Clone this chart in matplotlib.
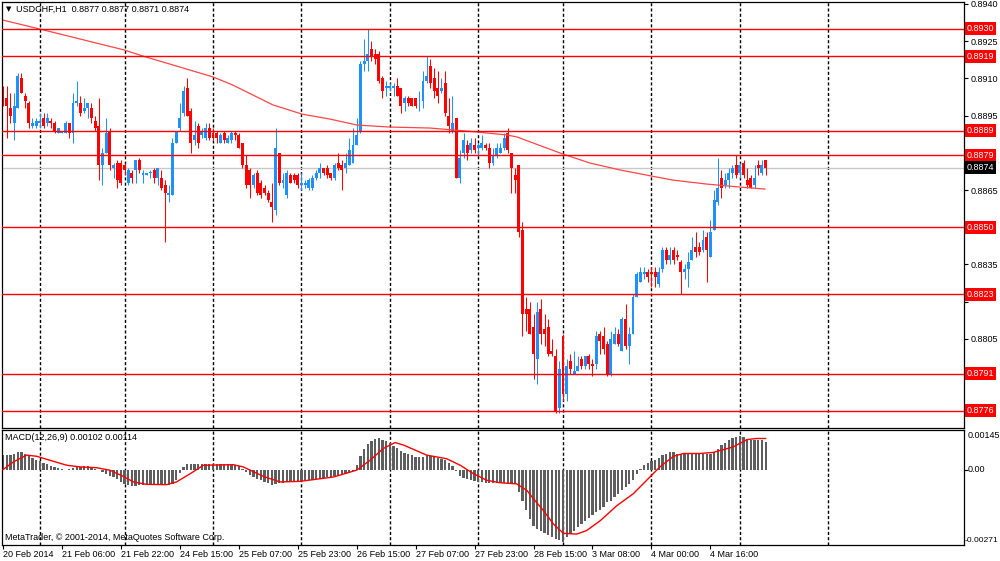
import numpy as np
import matplotlib
matplotlib.use('Agg')
import matplotlib.pyplot as plt
import matplotlib.transforms as mtransforms

plt.rcParams['font.family'] = ['Liberation Sans', 'DejaVu Sans']

# USDCHF H1 candles, prices in pips (1/10000)
opens = [8906, 8902, 8898, 8892, 8898, 8910, 8903, 8900, 8891, 8891,
         8892, 8894, 8892, 8893, 8892, 8888, 8888, 8888, 8892, 8888,
         8900, 8900, 8897, 8898, 8898, 8893, 8891, 8875, 8880, 8889,
         8874, 8876, 8876, 8875, 8868, 8872, 8873, 8877, 8871, 8871,
         8872, 8873, 8870, 8870, 8867, 8863, 8863, 8884, 8890, 8896,
         8906, 8897, 8885, 8891, 8887, 8886, 8890, 8888, 8888, 8884,
         8888, 8884, 8885, 8888, 8887, 8884, 8875, 8873, 8867, 8872,
         8868, 8866, 8864, 8860, 8857, 8880, 8868, 8863, 8871, 8871,
         8871, 8867, 8867, 8866, 8866, 8870, 8872, 8874, 8874, 8872,
         8870, 8876, 8875, 8874, 8875, 8876, 8883, 8889, 8916, 8917,
         8922, 8920, 8920, 8910, 8906, 8906, 8906, 8907, 8906, 8900,
         8902, 8902, 8902, 8902, 8901, 8909, 8915, 8910, 8906, 8905,
         8908, 8895, 8889, 8894, 8870, 8880, 8883, 8881, 8883, 8882,
         8882, 8883, 8882, 8876, 8879, 8880, 8882, 8888, 8880, 8871,
         8875, 8849, 8817, 8817, 8810, 8797, 8817, 8809, 8810, 8800,
         8798, 8777, 8806, 8783, 8796, 8791, 8792, 8797, 8794, 8798,
         8795, 8795, 8807, 8806, 8803, 8791, 8803, 8807, 8800, 8813,
         8802, 8807, 8822, 8828, 8831, 8832, 8832, 8832, 8827, 8833,
         8841, 8837, 8841, 8839, 8836, 8832, 8833, 8837, 8842, 8842,
         8841, 8846, 8838, 8849, 8860, 8870, 8867, 8869, 8872, 8875,
         8872, 8876, 8869, 8870, 8867, 8875, 8872, 8877]
highs = [8907, 8907, 8904, 8904, 8912, 8912, 8904, 8901, 8894, 8894,
         8896, 8896, 8896, 8894, 8893, 8890, 8889, 8893, 8892, 8904,
         8909, 8903, 8902, 8900, 8900, 8895, 8902, 8882, 8894, 8890,
         8876, 8877, 8877, 8876, 8874, 8873, 8877, 8878, 8873, 8872,
         8873, 8874, 8874, 8873, 8869, 8867, 8886, 8889, 8900, 8907,
         8910, 8898, 8893, 8892, 8890, 8892, 8892, 8890, 8889, 8888,
         8889, 8887, 8889, 8889, 8888, 8884, 8879, 8874, 8872, 8873,
         8869, 8867, 8865, 8868, 8890, 8880, 8872, 8873, 8872, 8872,
         8872, 8872, 8869, 8870, 8871, 8873, 8876, 8874, 8875, 8872,
         8876, 8880, 8877, 8880, 8886, 8890, 8894, 8917, 8926, 8930,
         8925, 8922, 8921, 8911, 8909, 8908, 8908, 8910, 8906, 8903,
         8903, 8902, 8902, 8905, 8913, 8919, 8918, 8914, 8913, 8910,
         8913, 8902, 8903, 8894, 8881, 8888, 8885, 8886, 8886, 8884,
         8887, 8884, 8884, 8882, 8884, 8884, 8888, 8890, 8880, 8874,
         8875, 8852, 8822, 8820, 8815, 8820, 8821, 8815, 8813, 8805,
         8801, 8796, 8807, 8797, 8799, 8800, 8798, 8798, 8798, 8799,
         8797, 8808, 8808, 8810, 8804, 8808, 8810, 8809, 8814, 8819,
         8810, 8823, 8832, 8834, 8834, 8833, 8834, 8834, 8834, 8842,
         8842, 8842, 8842, 8841, 8837, 8835, 8840, 8846, 8848, 8844,
         8849, 8848, 8853, 8865, 8878, 8873, 8872, 8874, 8875, 8879,
         8876, 8877, 8874, 8871, 8875, 8877, 8877, 8877]
lows = [8899, 8886, 8892, 8885, 8898, 8904, 8898, 8890, 8890, 8890,
        8890, 8890, 8891, 8890, 8888, 8888, 8888, 8888, 8886, 8884,
        8899, 8895, 8896, 8894, 8892, 8889, 8869, 8867, 8880, 8873,
        8870, 8866, 8867, 8871, 8867, 8868, 8868, 8872, 8868, 8871,
        8870, 8868, 8867, 8865, 8844, 8860, 8863, 8884, 8889, 8895,
        8895, 8880, 8883, 8882, 8886, 8885, 8885, 8885, 8884, 8884,
        8884, 8884, 8884, 8885, 8882, 8874, 8866, 8862, 8866, 8863,
        8862, 8863, 8860, 8852, 8855, 8867, 8866, 8862, 8868, 8868,
        8866, 8865, 8866, 8865, 8865, 8869, 8870, 8871, 8870, 8869,
        8869, 8873, 8865, 8872, 8875, 8876, 8883, 8888, 8913, 8913,
        8917, 8916, 8908, 8902, 8903, 8905, 8903, 8903, 8896, 8897,
        8899, 8899, 8898, 8897, 8898, 8908, 8906, 8902, 8900, 8904,
        8895, 8888, 8888, 8870, 8868, 8878, 8877, 8880, 8880, 8879,
        8881, 8881, 8874, 8875, 8878, 8880, 8881, 8880, 8864, 8864,
        8846, 8806, 8808, 8807, 8789, 8787, 8803, 8802, 8798, 8798,
        8775, 8775, 8780, 8780, 8791, 8791, 8792, 8793, 8793, 8793,
        8790, 8793, 8799, 8799, 8790, 8790, 8803, 8802, 8800, 8801,
        8795, 8807, 8822, 8828, 8829, 8828, 8826, 8826, 8826, 8832,
        8835, 8835, 8835, 8837, 8823, 8829, 8826, 8837, 8838, 8839,
        8840, 8828, 8838, 8849, 8859, 8862, 8866, 8866, 8870, 8870,
        8870, 8870, 8866, 8866, 8866, 8871, 8871, 8871]
closes = [8901, 8899, 8895, 8899, 8911, 8904, 8901, 8892, 8892, 8893,
          8893, 8891, 8894, 8892, 8889, 8890, 8889, 8892, 8888, 8900,
          8901, 8896, 8898, 8900, 8894, 8890, 8875, 8880, 8888, 8875,
          8875, 8869, 8868, 8873, 8873, 8870, 8877, 8873, 8872, 8872,
          8872, 8870, 8874, 8866, 8864, 8864, 8884, 8889, 8894, 8905,
          8895, 8884, 8887, 8884, 8889, 8890, 8886, 8886, 8886, 8887,
          8885, 8886, 8888, 8887, 8882, 8875, 8867, 8867, 8871, 8864,
          8863, 8864, 8861, 8858, 8882, 8868, 8869, 8872, 8868, 8869,
          8867, 8868, 8868, 8869, 8870, 8872, 8874, 8872, 8871, 8870,
          8875, 8874, 8873, 8876, 8881, 8883, 8887, 8916, 8917, 8920,
          8919, 8918, 8909, 8905, 8907, 8907, 8907, 8903, 8899, 8902,
          8900, 8899, 8899, 8902, 8909, 8911, 8908, 8905, 8903, 8906,
          8896, 8891, 8892, 8870, 8878, 8885, 8880, 8884, 8881, 8883,
          8884, 8882, 8876, 8879, 8882, 8882, 8886, 8881, 8874, 8869,
          8848, 8815, 8815, 8807, 8799, 8816, 8807, 8807, 8799, 8799,
          8776, 8793, 8783, 8794, 8793, 8792, 8794, 8794, 8798, 8795,
          8794, 8806, 8804, 8801, 8791, 8805, 8807, 8803, 8813, 8802,
          8807, 8822, 8831, 8832, 8832, 8830, 8831, 8830, 8832, 8841,
          8837, 8839, 8837, 8838, 8832, 8833, 8836, 8841, 8840, 8840,
          8845, 8841, 8848, 8861, 8866, 8866, 8869, 8872, 8874, 8871,
          8875, 8871, 8867, 8866, 8870, 8874, 8875, 8874]

# moving average (bar index, price)
ma_bar = [0, 10, 32.8, 38, 57, 62.4, 73.3, 81.2, 88.8, 96.1, 105, 115.9,
          128.7, 136.8, 139.5, 152, 159.3, 167.5, 176.2, 181.9, 191.1, 200.1, 206.8]
ma_val = [0.89335, 0.89299, 0.89215, 0.89190, 0.89106, 0.89073, 0.88993,
          0.88956, 0.88936, 0.88912, 0.88904, 0.88900, 0.88884, 0.88872,
          0.88864, 0.88795, 0.88759, 0.88731, 0.88706, 0.88690, 0.88674,
          0.88662, 0.88654]

levels = [0.8930, 0.8919, 0.8889, 0.8879, 0.8850, 0.8823, 0.8791, 0.8776]
last_price = 0.8874

# MACD(12,26,9) main histogram, units of 1e-5
macd = [53, 53, 55, 59, 63, 63, 59, 50, 44, 37,
        31, 26, 22, 15, 9, 5, 2, 0, 2, 7,
        10, 11, 12, 13, 10, 4, -2, -10, -16, -22,
        -28, -36, -44, -52, -56, -60, -59, -58, -56, -56,
        -56, -56, -56, -55, -55, -58, -52, -37, -12, 10,
        21, 22, 22, 22, 22, 22, 21, 20, 20, 20,
        20, 20, 18, 17, 13, 4, -9, -18, -27, -34,
        -39, -44, -50, -58, -53, -50, -48, -47, -45, -45,
        -44, -43, -42, -39, -38, -36, -33, -31, -28, -27,
        -25, -22, -18, -15, -11, -5, 16, 49, 74, 93,
        106, 113, 114, 110, 103, 96, 87, 79, 69, 61,
        56, 52, 47, 45, 48, 52, 50, 47, 44, 39,
        34, 26, 12, -5, -22, -29, -36, -39, -43, -45,
        -47, -49, -50, -49, -49, -49, -49, -49, -50, -54,
        -82, -113, -147, -180, -205, -217, -223, -232, -239, -248,
        -254, -256, -266, -248, -236, -223, -211, -199, -189, -177,
        -166, -156, -146, -135, -120, -113, -101, -91, -76, -64,
        -52, -37, -17, 2, 16, 26, 33, 37, 43, 52,
        58, 63, 63, 59, 58, 56, 56, 56, 56, 58,
        58, 59, 59, 65, 77, 90, 99, 108, 115, 120,
        123, 120, 112, 108, 108, 108, 107, 102]
sig_bar = [0, 2.8, 6.4, 9.1, 12.8, 17.3, 20.9, 25.4, 29, 32.7, 35.4, 39, 44.4,
           47.1, 50.8, 54.4, 62.5, 65.2, 70.7, 75.2, 80.6, 89.7, 96, 99.6, 103.2,
           106.4, 108.7, 115, 120.4, 124.1, 127.7, 131.3, 134.9, 139.4, 142.2,
           144, 146.7, 149.4, 152.1, 155.7, 158.4, 162.1, 166.6, 171.1, 174.7,
           178.3, 182, 184.7, 189.2, 192.8, 198.2, 201.9, 204.6, 207]
sig_val = [0, 28, 53, 49, 34, 16, 10, 7, -2, -25, -45, -54, -55,
           -45, -15, 16, 18, 10, -25, -45, -43, -27, -2, 34, 77,
           99, 90, 53, 40, 16, -15, -39, -48, -52, -76,
           -107, -150, -199, -233, -236, -223, -187, -132, -88, -39,
           10, 49, 59, 59, 63, 83, 110, 114, 114]

time_ticks = [0, 16, 32, 48, 64, 80, 96, 112, 128, 144, 160, 176, 192]
time_labels = ['20 Feb 2014', '21 Feb 06:00', '21 Feb 22:00', '24 Feb 15:00',
               '25 Feb 07:00', '25 Feb 23:00', '26 Feb 15:00', '27 Feb 07:00',
               '27 Feb 23:00', '28 Feb 15:00', '3 Mar 08:00', '4 Mar 00:00',
               '4 Mar 16:00']
grid_bars = [10, 33, 57, 81, 105, 129, 152, 176, 200, 224]

price_ticks = [0.8940, 0.8925, 0.8910, 0.8895, 0.8880, 0.8865, 0.8850,
               0.8835, 0.8820, 0.8805, 0.8790, 0.8775]

BLUE = '#1e90ff'
RED = '#ff0000'
FS = 6.5

o = np.array(opens) / 10000.0
h = np.array(highs) / 10000.0
l = np.array(lows) / 10000.0
c = np.array(closes) / 10000.0
x = np.arange(len(o))
up = c >= o
cols = np.where(up, BLUE, RED)

W, H = 1000.0, 561.0
fig = plt.figure(figsize=(10, 5.61), dpi=100)
fig.patch.set_facecolor('white')

ax = fig.add_axes([2 / W, 1 - 428 / H, 961.5 / W, 426.5 / H])
axm = fig.add_axes([2 / W, 1 - 544.5 / H, 961.5 / W, 114.5 / H], sharex=ax)

ax.set_xlim(-0.27, 260.7)
ax.set_ylim(0.87691, 0.89410)
axm.set_ylim(-0.00274, 0.00145)

for a in (ax, axm):
    for g in grid_bars:
        a.axvline(g, color='black', lw=1.0, linestyle=(0, (2.2, 1.6)), zorder=1)
    for s in a.spines.values():
        s.set_linewidth(0.9)
        s.set_color('black')

# current price line
ax.axhline(last_price, color='#c8c8c8', lw=1.0, zorder=1.5)

# candles
ax.vlines(x, l, h, colors=cols, lw=0.75, zorder=2)
body_lo = np.minimum(o, c)
body_h = np.maximum(np.abs(c - o), 0.00003)
ax.bar(x, body_h, bottom=body_lo, width=0.8, color=cols, linewidth=0, zorder=2.2)

# moving average
ax.plot(ma_bar, ma_val, color='#ff4545', lw=0.9, zorder=2.4)

# horizontal levels
for lv in levels:
    ax.axhline(lv, color=RED, lw=1.0, zorder=3)

# right price axis
ax.yaxis.tick_right()
ax.set_yticks(price_ticks)
lab = []
for t in price_ticks:
    hidden = any(abs(t - lv) < 0.00035 for lv in levels)
    lab.append('' if hidden else '%.4f' % t)
ax.set_yticklabels(lab)
ax.tick_params(axis='y', direction='out', length=3, width=0.8, pad=2,
               labelsize=FS, colors='black')
ax.tick_params(axis='x', bottom=False, labelbottom=False)

trans = mtransforms.blended_transform_factory(ax.transAxes, ax.transData)
for lv in levels:
    ax.text(1.0035, lv, '%.4f' % lv, transform=trans, ha='left', va='center',
            fontsize=FS, color='white', clip_on=False, zorder=10,
            bbox=dict(boxstyle='square,pad=0.22', fc=RED, ec='none'))
ax.text(1.0035, last_price, '%.4f' % last_price, transform=trans, ha='left',
        va='center', fontsize=FS, color='white', clip_on=False, zorder=10,
        bbox=dict(boxstyle='square,pad=0.22', fc='black', ec='none'))

# MACD panel
axm.bar(x, np.array(macd) * 1e-5, width=0.62, color='#5e5e5e', linewidth=0, zorder=2)
axm.plot(sig_bar, np.array(sig_val) * 1e-5, color=RED, lw=1.0, zorder=3)
axm.set_yticks([0.0])
axm.set_yticklabels([])
axm.yaxis.tick_right()
axm.tick_params(axis='y', direction='out', length=3, width=0.8)
transm = mtransforms.blended_transform_factory(axm.transAxes, axm.transData)
axm.text(1.004, 0.0, '0.00', transform=transm, ha='left', va='center',
         fontsize=FS, clip_on=False)
axm.text(1.004, 0.00142, '0.00145', transform=transm, ha='left', va='top',
         fontsize=FS, clip_on=False)
axm.text(1.0015, -0.00271, '-0.00271', transform=transm, ha='left', va='bottom',
         fontsize=6.1, clip_on=False)

axm.set_xticks(time_ticks)
axm.set_xticklabels(time_labels, ha='left')
axm.tick_params(axis='x', direction='out', length=3, width=0.8, pad=0.8,
                labelsize=FS)

# header texts
fig.text(6 / W, 1 - 9 / H, '\u25bc', fontsize=5, va='center', ha='left',
         family=['DejaVu Sans'])
fig.text(16 / W, 1 - 9 / H, 'USDCHF,H1  0.8877 0.8877 0.8871 0.8874',
         fontsize=FS, va='center', ha='left')
fig.text(5 / W, 1 - 437 / H, 'MACD(12,26,9) 0.00102 0.00114',
         fontsize=FS, va='center', ha='left')
fig.text(5 / W, 1 - 538 / H, 'MetaTrader, \u00a9 2001-2014, MetaQuotes Software Corp.',
         fontsize=FS, va='center', ha='left')

fig.savefig('out.png', dpi=100)
